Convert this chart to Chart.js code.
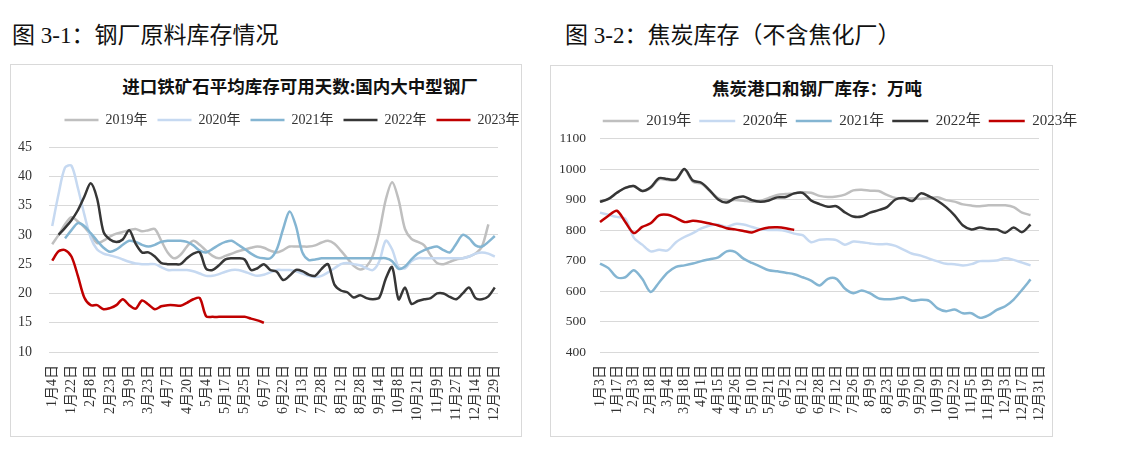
<!DOCTYPE html>
<html>
<head>
<meta charset="utf-8">
<script src="https://cdn.jsdelivr.net/npm/chart.js"></script>
<style>
  body { margin: 0; background: #fff; width: 1125px; height: 453px; overflow: hidden; position: relative; }
  .head { position: absolute; top: 24px; font: 23px/24px "Liberation Serif", "Noto Sans CJK SC", serif; color: #111; white-space: nowrap; }
  .box { position: absolute; box-sizing: border-box; border: 1px solid #d9d9d9; }
  .titolo { position: absolute; width: 440px; text-align: center; font: bold 17.5px/20px "Noto Sans CJK SC", sans-serif; color: #111; white-space: nowrap; }
  .wrap { position: absolute; }
</style>
</head>
<body>
<div class="head" style="left:12px">图 3-1：钢厂原料库存情况</div>
<div class="head" style="left:565px">图 3-2：焦炭库存（不含焦化厂）</div>

<div class="box" style="left:10px;top:64px;width:512px;height:373px"></div>
<div class="box" style="left:550px;top:65px;width:503px;height:372px"></div>

<div class="titolo" style="left:80px;top:76px">进口铁矿石平均库存可用天数:国内大中型钢厂</div>
<div class="titolo" style="left:597px;top:78px">焦炭港口和钢厂库存：万吨</div>

<div class="wrap" style="left:11px;top:65px;width:562px;height:357px"><canvas id="chart-sx"></canvas></div>
<div class="wrap" style="left:556px;top:66px;width:568px;height:356px"><canvas id="chart-dx"></canvas></div>

<script>
// ---- grafico 3-1: giorni di scorta minerale di ferro ----
var dateSx = ['1月4日', '1月22日', '2月8日', '2月23日', '3月9日', '3月23日', '4月7日', '4月20日', '5月4日', '5月17日', '5月25日', '6月7日',
  '6月22日', '7月13日', '7月28日', '8月12日', '8月28日', '9月14日', '10月8日', '10月21日', '11月9日', '11月27日', '12月14日', '12月29日'];

var ore2019 = [28.4, 30, 31.8, 33, 32.3, 31.3, 30, 28.6, 29, 29.7,
  30.2, 30.5, 30.8, 31, 30.6, 30.8, 31, 29, 27, 26,
  26.6, 28, 29, 28.3, 27.3, 26.4, 26, 26.4, 26.8, 27.2,
  27.5, 27.8, 28, 27.8, 27.3, 27, 27.4, 28, 28, 28,
  28, 28.2, 28.7, 29, 28.5, 27.3, 26, 24.7, 24.1, 24.6,
  26.5, 30.5, 36, 39, 36, 31, 29.3, 28.8, 28.2, 26.5,
  25.2, 25, 25.4, 25.8, 26, 26.3, 26.8, 28, 31.8, null];
var ore2020 = [31.5, 37, 41.5, 41.8, 38, 33.5, 29.5, 27.5, 26.8, 26.5,
  26.2, 25.8, 25.4, 25.1, 25, 25, 25, 24.5, 24, 24,
  24, 24, 23.8, 23.4, 23, 23, 23.3, 23.7, 24, 24,
  23.7, 23.3, 23, 23.2, 23.6, 24, 24, 24, 23.8, 23.4,
  23, 22.8, 23, 23.6, 24.3, 25, 25.2, 25, 24.8, 24.3,
  24, 25.5, 29, 27.5, 24.5, 24.3, 25.5, 26, 26, 26,
  26, 26, 26, 26, 26, 26.3, 26.8, 27, 26.8, 26.3];
var ore2021 = [null, null, 29.4, 30.8, 32, 31.5, 30.3, 29, 27.8, 27.1,
  27.5, 28.3, 29, 28.8, 28.3, 28, 28.3, 28.8, 29, 29,
  29, 28.8, 28.2, 27.3, 27, 27.6, 28.3, 28.8, 29, 28.3,
  27.6, 26.8, 26.2, 26, 26, 27.5, 31, 34, 31.5, 27,
  25.7, 25.8, 26, 26, 26, 26, 26, 26, 26, 26,
  26, 26, 26, 25.5, 24.2, 24.6, 25.8, 26.8, 27.4, 27.8,
  28, 27.4, 27, 28.5, 30, 29.4, 28.2, 28, 28.8, 29.8];
var ore2022 = [null, 30, 31.2, 32.5, 34.2, 36.5, 38.8, 36.2, 30.5, 29.2,
  28.8, 29.2, 30.8, 28.5, 27, 27, 26.3, 25.2, 25, 25,
  25, 26, 26.8, 27, 24.2, 24, 24.8, 25.8, 26, 26,
  25.8, 24, 24.3, 25, 24, 23.7, 22.3, 23, 24, 23.8,
  23.2, 23, 24.2, 25, 21.5, 20.5, 20.2, 19.3, 19.7, 19.2,
  19, 19.3, 22.5, 24.5, 19, 21, 18.2, 18.7, 19, 19.2,
  20, 20, 19.4, 19, 20, 21, 19.2, 19, 19.5, 21];
var ore2023 = [25.6, 27.2, 27.4, 26.3, 23, 19.3, 18, 18, 17.3, 17.5,
  18, 19, 18, 17.4, 18.8, 18.1, 17.3, 17.8, 18, 18,
  17.9, 18.4, 19, 19.2, 16.1, 16, 16, 16, 16, 16,
  16, 15.7, 15.4, 15];

// ---- grafico 3-2: scorte di coke ----
var dateDx = ['1月3日', '1月17日', '2月3日', '2月18日', '3月4日', '3月18日', '4月1日', '4月15日', '4月26日', '5月10日', '5月21日', '6月2日',
  '6月12日', '6月28日', '7月12日', '7月26日', '8月9日', '8月23日', '9月6日', '9月20日', '10月9日', '10月22日', '11月5日', '11月19日',
  '12月3日', '12月17日', '12月31日'];

var coke2019 = [892, 902, 922, 938, 944, 928, 938, 966, 964, 964,
  998, 958, 952, 928, 905, 898, 898, 896, 893, 895,
  905, 915, 918, 920, 924, 922, 912, 908, 910, 916,
  930, 932, 929, 928, 915, 905, 904, 904, 902, 905,
  907, 898, 893, 884, 880, 878, 881, 881, 881, 875,
  857, 849, null];
var coke2020 = [857, 850, 843, 837, 775, 752, 730, 735, 733, 760,
  777, 790, 805, 815, 818, 810, 820, 818, 810, 802,
  800, 800, 797, 788, 783, 760, 768, 770, 767, 752,
  762, 760, 756, 753, 754, 748, 735, 722, 716, 706,
  697, 689, 688, 684, 688, 698, 698, 700, 707, 702,
  693, 684, null];
var coke2021 = [690, 675, 645, 645, 668, 640, 597, 628, 660, 679,
  684, 690, 698, 704, 710, 730, 728, 706, 692, 680,
  668, 665, 660, 655, 645, 634, 618, 640, 640, 608,
  593, 602, 592, 576, 573, 575, 579, 568, 571, 568,
  543, 534, 539, 527, 527, 512, 520, 538, 550, 572,
  604, 638, null];
var coke2022 = [892, 902, 922, 938, 944, 928, 940, 970, 967, 966,
  1000, 962, 955, 930, 900, 890, 905, 910, 898, 893,
  897, 907, 908, 920, 922, 897, 885, 876, 878, 858,
  844, 844, 857, 865, 875, 900, 905, 895, 920, 910,
  895, 875, 848, 815, 802, 808, 803, 802, 791, 808,
  793, 818, null];
var coke2023 = [826, 847, 863, 826, 790, 810, 822, 848, 850, 840,
  826, 830, 827, 821, 815, 806, 802, 797, 792, 802,
  808, 809, 806, 800];

var anni = ['2019年', '2020年', '2021年', '2022年', '2023年'];
var colori = ['#bfbfbf', '#c6d9f1', '#84b5d2', '#363636', '#c00000'];
var serif = '"Liberation Serif", "Noto Sans CJK SC", serif';

// etichette: una data ogni "passo" punti, il resto vuoto
function etichette(date, passo) {
  var out = [];
  for (var i = 0; i < date.length; i++) {
    out.push(date[i]);
    if (i < date.length - 1) {
      for (var k = 1; k < passo; k++) out.push('');
    }
  }
  return out;
}

function serie(i, data, tensione) {
  return {
    label: anni[i],
    data: data,
    borderColor: colori[i],
    backgroundColor: colori[i],
    borderWidth: 2.5,
    pointRadius: 0,
    tension: tensione,
    fill: false,
    order: 5 - i   // 2023 sopra a tutti
  };
}

// sposta un po' il grafico sotto la legenda
function margineLegenda(extra) {
  return {
    id: 'margineLegenda',
    beforeInit: function(chart) {
      var fitOrig = chart.legend.fit;
      chart.legend.fit = function() {
        fitOrig.bind(chart.legend)();
        this.height += extra;
      };
    }
  };
}

function opzioni(cfg) {
  return {
    responsive: true,
    maintainAspectRatio: false,
    animation: false,
    layout: { padding: { top: cfg.padTop, left: 0, right: 0, bottom: 0 } },
    plugins: {
      title: { display: false },
      tooltip: { enabled: false },
      legend: {
        position: 'top',
        labels: {
          usePointStyle: true,
          pointStyle: 'line',
          pointStyleWidth: cfg.lineaLeg,
          padding: cfg.padLeg,
          color: '#333',
          font: { family: serif, size: cfg.fontLeg },
          // legenda in ordine di anno, non di disegno
          sort: function(a, b) { return a.datasetIndex - b.datasetIndex; }
        }
      }
    },
    scales: {
      x: {
        offset: cfg.offset,
        grid: { display: false, drawTicks: false },
        border: { display: false },
        ticks: {
          autoSkip: false,
          minRotation: 90,
          maxRotation: 90,
          padding: 13,
          color: '#333',
          font: { family: serif, size: 14 }
        },
        afterFit: function(s) { s.height = 70; }
      },
      y: {
        min: cfg.min,
        max: cfg.max,
        grid: { color: '#d9d9d9', lineWidth: 1, drawTicks: false },
        border: { display: false },
        ticks: {
          stepSize: cfg.step,
          padding: cfg.padY,
          color: '#333',
          font: { family: serif, size: cfg.fontY },
          callback: function(v) { return String(v); }
        },
        afterFit: function(s) { s.width = cfg.largY; }
      },
      destra: {
        type: 'linear',
        position: 'right',
        grid: { display: false, drawTicks: false },
        border: { display: false },
        ticks: { display: false },
        afterFit: function(s) { s.width = cfg.largDx; }
      }
    }
  };
}

var ctxSx = document.getElementById('chart-sx');
new Chart(ctxSx, {
  type: 'line',
  data: {
    labels: etichette(dateSx, 3),
    datasets: [
      serie(0, ore2019, 0.3),
      serie(1, ore2020, 0.3),
      serie(2, ore2021, 0.3),
      serie(3, ore2022, 0.3),
      serie(4, ore2023, 0.3)
    ]
  },
  options: opzioni({ padTop: 38, lineaLeg: 34, padLeg: 10, fontLeg: 14, offset: true,
    min: 10, max: 45, step: 5, padY: 17, fontY: 14, largY: 38, largDx: 75 }),
  plugins: [margineLegenda(10)]
});

var ctxDx = document.getElementById('chart-dx');
new Chart(ctxDx, {
  type: 'line',
  data: {
    labels: etichette(dateDx, 2),
    datasets: [
      serie(0, coke2019, 0.3),
      serie(1, coke2020, 0.3),
      serie(2, coke2021, 0.3),
      serie(3, coke2022, 0.3),
      serie(4, coke2023, 0.3)
    ]
  },
  options: opzioni({ padTop: 39.5, lineaLeg: 36, padLeg: 8, fontLeg: 15, offset: false,
    min: 400, max: 1100, step: 100, padY: 14, fontY: 13.5, largY: 44, largDx: 85 }),
  plugins: [margineLegenda(0)]
});
</script>
</body>
</html>
